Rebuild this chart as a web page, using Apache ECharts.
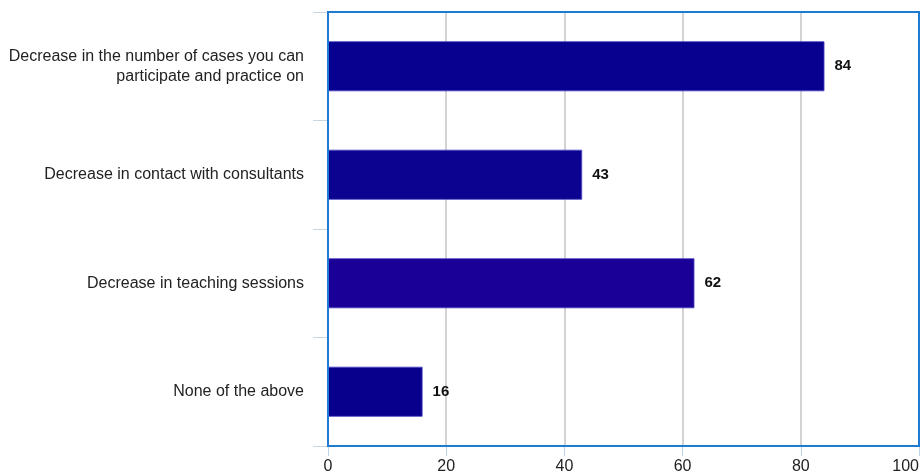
<!DOCTYPE html>
<html>
<head>
<meta charset="utf-8">
<script src="https://cdn.jsdelivr.net/npm/echarts@6/dist/echarts.min.js"></script>
<style>html,body{margin:0;padding:0;background:#fff}#c{width:922px;height:476px}</style>
</head>
<body>
<div id="c"></div>
<script>
var categories = [
  "Decrease in the number of cases you can\nparticipate and practice on",
  "Decrease in contact with consultants",
  "Decrease in teaching sessions",
  "None of the above"
];
var values = [84, 43, 62, 16];
var barColors = ["#08008f", "#0c0490", "#1a0096", "#08008d"];
var xTicks = [0, 20, 40, 60, 80, 100];

var chart = echarts.init(document.getElementById('c'), null, {renderer: 'canvas'});
chart.setOption({
  animation: false,
  backgroundColor: '#ffffff',
  grid: {
    left: 328, right: 3, top: 12, bottom: 30,
    outerBoundsMode: 'none', containLabel: false,
    show: true, borderColor: '#1e7bd3', borderWidth: 2, backgroundColor: 'transparent', z: 3
  },
  xAxis: {
    type: 'value', min: xTicks[0], max: xTicks[xTicks.length - 1], interval: 20,
    axisLine: {show: false},
    axisTick: {show: true, length: 10, lineStyle: {color: '#bcd3ea', width: 1}},
    axisLabel: {fontFamily: 'Liberation Sans, Arial, sans-serif', fontSize: 16, color: '#222', margin: 13, alignMaxLabel: 'right'},
    splitLine: {show: true, lineStyle: {color: '#c4c4c4', width: 1.5}}
  },
  yAxis: {
    type: 'category', data: categories, inverse: true,
    axisLine: {show: false},
    axisTick: {show: true, length: 15, lineStyle: {color: '#c9d5e3', width: 1}},
    axisLabel: {fontFamily: 'Liberation Sans, Arial, sans-serif', fontSize: 16, color: '#222', margin: 24, lineHeight: 20, align: 'right'}
  },
  series: [{
    type: 'bar',
    barWidth: 50,
    data: values.map(function (v, i) {
      return {value: v, itemStyle: {color: barColors[i], borderColor: '#4a46c4', borderWidth: 0.8}};
    }),
    label: {
      show: true, position: 'right', distance: 10,
      fontFamily: 'Liberation Sans, Arial, sans-serif', fontSize: 15, fontWeight: 'bold', color: '#111'
    }
  }]
});
</script>
</body>
</html>
